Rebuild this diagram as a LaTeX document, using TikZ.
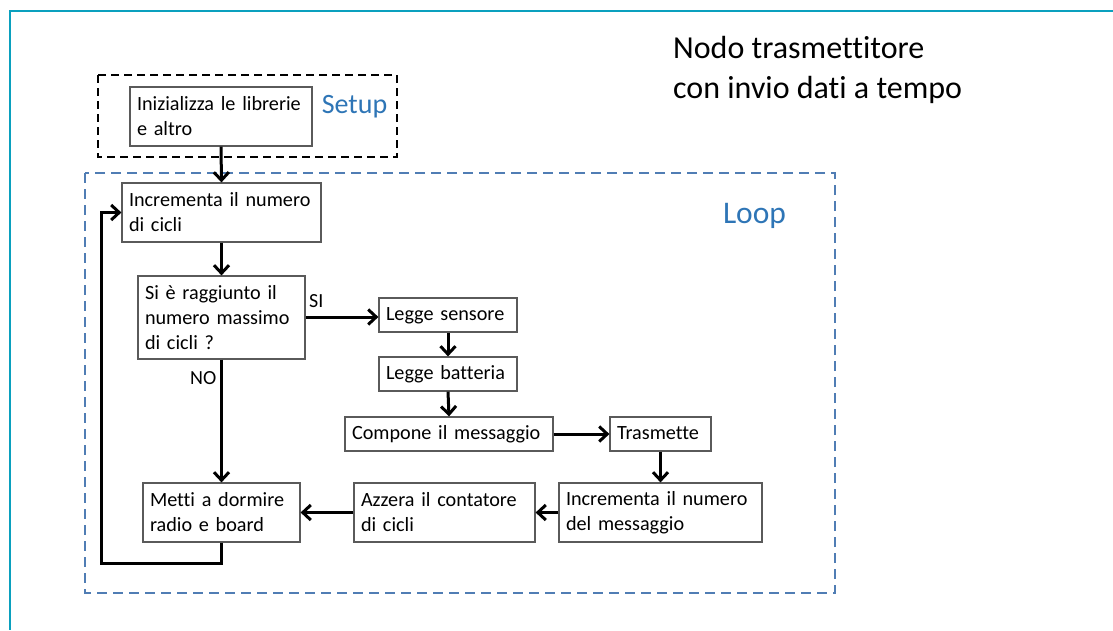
\documentclass[tikz,border=0pt]{standalone}
\usepackage{fontspec}
\setmainfont{Carlito}[Ligatures=NoCommon]
\usetikzlibrary{arrows.meta}
\definecolor{frameteal}{RGB}{10,160,190}
\definecolor{boxgray}{RGB}{90,90,90}
\definecolor{loopblue}{RGB}{80,125,180}
\definecolor{labelblue}{RGB}{46,117,182}
\tikzset{
  box/.style={draw=boxgray, line width=1.2pt, rectangle, inner xsep=7pt, inner ysep=2pt,
    align=left, font=\fontsize{20.2}{25}\selectfont,
    execute at begin node={\hyphenpenalty=10000\hbadness=10000\hfuzz=30pt}},
  onebox/.style={box, text height=14pt, text depth=3pt},
  flow/.style={line width=3pt, -{Straight Barb[length=8pt,width=15pt,line width=3pt]}},
  lbl/.style={inner sep=0pt, font=\fontsize{20}{24}\selectfont},
}
\begin{document}
\begin{tikzpicture}[x=1pt,y=-1pt]
\useasboundingbox (0,0) rectangle (1113,630);
\draw[frameteal, line width=2.5pt] (1113,11) -- (10,11) -- (10,630);

% group frames
\draw[black, line width=2pt, dash pattern=on 8pt off 5pt] (98,75) rectangle (397,157);
\draw[loopblue, line width=1.5pt, dash pattern=on 10pt off 6pt] (85,173) rectangle (835,593);

% title and group labels
\node[anchor=north west, inner sep=0pt, align=left, font=\fontsize{32}{40}\selectfont] (title) at (673,36)
  {Nodo trasmettitore\\con invio dati a tempo};
\node[anchor=base, inner sep=0pt, text=labelblue, font=\fontsize{28}{32}\selectfont] (setup) at (354.5,113) {Setup};
\node[anchor=base, inner sep=0pt, text=labelblue, font=\fontsize{31.5}{36}\selectfont] (loop) at (754.5,223) {Loop};

% boxes
\node[box, text width=168pt, minimum height=59pt] (init) at (221,116.5) {Inizializza le librerie\\e altro};
\node[box, text width=185pt, minimum height=59pt] (inc) at (221.5,212.5) {Incrementa il numero\\di cicli};
\node[box, text width=153pt, minimum height=83pt] (dec) at (221.5,317.5) {Si è raggiunto il\\numero massimo\\di cicli ?};
\node[onebox, text width=124pt, minimum height=34pt] (sens) at (448,315) {Legge sensore};
\node[onebox, text width=124pt, minimum height=34pt] (batt) at (448,374) {Legge batteria};
\node[onebox, text width=194pt, minimum height=34pt] (comp) at (449,434) {Compone il messaggio};
\node[onebox, text width=87pt, minimum height=34pt] (tras) at (660.5,434) {Trasmette};
\node[box, text width=143pt, minimum height=59pt] (metti) at (221.5,512.5) {Metti a dormire\\radio e board};
\node[box, text width=167pt, minimum height=59pt] (azz) at (444.5,512.5) {Azzera il contatore\\di cicli};
\node[box, text width=189pt, minimum height=59pt] (incm) at (660.5,512.5) {Incrementa il numero\\del messaggio};

% connectors
\draw[flow] (init.south) -- (inc.north);
\draw[flow] (inc.south) -- (dec.north);
\draw[flow] (dec.east |- 0,317) -- (sens.west |- 0,317);
\draw[flow] (sens.south) -- (batt.north);
\draw[flow] (batt.south) -- (comp.north);
\draw[flow] (comp.east) -- (tras.west);
\draw[flow] (tras.south) -- (incm.north);
\draw[flow] (incm.west) -- (azz.east);
\draw[flow] (azz.west) -- (metti.east);
\draw[flow] (dec.south) -- (metti.north);
\coordinate (ret) at (101,563);
\draw[flow] (metti.south) |- (ret) |- (inc.west);

% branch labels
\node[lbl, anchor=base west] (si) at (309,307) {SI};
\node[lbl, anchor=base west] (no) at (190,384) {NO};
\end{tikzpicture}
\end{document}
